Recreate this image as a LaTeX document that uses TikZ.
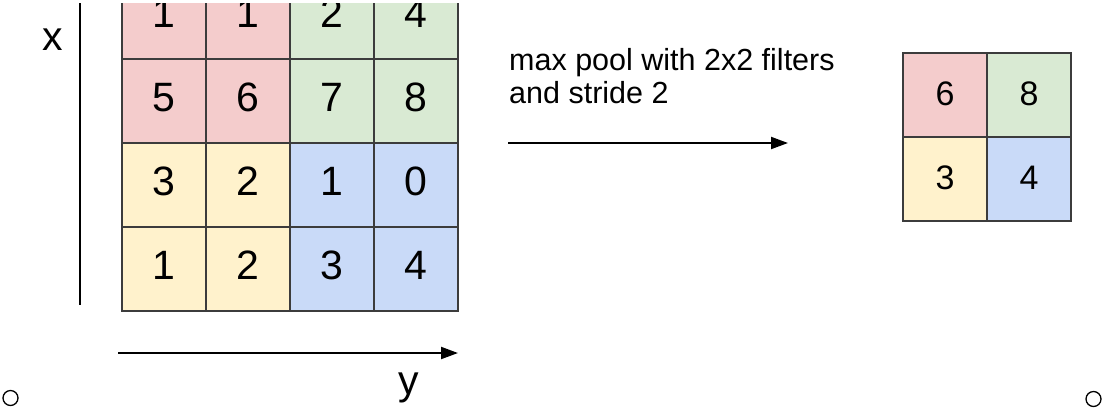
\documentclass[tikz,border=0pt]{standalone}
\usepackage{fontspec}
\setmainfont{Liberation Sans}
\usetikzlibrary{arrows.meta}
\definecolor{cpink}{RGB}{244,204,204}
\definecolor{cgreen}{RGB}{217,234,211}
\definecolor{cyellow}{RGB}{255,242,204}
\definecolor{cblue}{RGB}{201,218,248}
\definecolor{cborder}{RGB}{60,60,60}
\tikzset{
  bigcell/.style={draw=cborder, line width=1.3pt, minimum width=84pt, minimum height=84pt,
    inner sep=0pt, text depth=8pt, font=\fontsize{41}{41}\selectfont},
  smallcell/.style={draw=cborder, line width=1.3pt, minimum width=84pt, minimum height=84pt,
    inner sep=0pt, text depth=2pt, font=\fontsize{34}{34}\selectfont},
  axislabel/.style={inner sep=0pt, font=\fontsize{41}{41}\selectfont},
  arrowline/.style={line width=2pt, -{Triangle[length=17pt,width=12pt]}},
  bullet/.style={draw=black, line width=1.3pt, circle, minimum size=15pt, inner sep=0pt}
}
\begin{document}
\begin{tikzpicture}[x=1pt,y=-1pt]
\useasboundingbox (0,0) rectangle (1105,408);
\fill[white] (0,0) rectangle (1105,408);
\begin{scope}
\clip (0,3) rectangle (1105,408);
% input grid, column centres 164,248,332,416 ; row centres 17,101,185,269
\node[bigcell, fill=cpink]   (c11) at (164,17)  {1};
\node[bigcell, fill=cpink]   (c12) at (248,17)  {1};
\node[bigcell, fill=cgreen]  (c13) at (332,17)  {2};
\node[bigcell, fill=cgreen]  (c14) at (416,17)  {4};
\node[bigcell, fill=cpink]   (c21) at (164,101) {5};
\node[bigcell, fill=cpink]   (c22) at (248,101) {6};
\node[bigcell, fill=cgreen]  (c23) at (332,101) {7};
\node[bigcell, fill=cgreen]  (c24) at (416,101) {8};
\node[bigcell, fill=cyellow] (c31) at (164,185) {3};
\node[bigcell, fill=cyellow] (c32) at (248,185) {2};
\node[bigcell, fill=cblue]   (c33) at (332,185) {1};
\node[bigcell, fill=cblue]   (c34) at (416,185) {0};
\node[bigcell, fill=cyellow] (c41) at (164,269) {1};
\node[bigcell, fill=cyellow] (c42) at (248,269) {2};
\node[bigcell, fill=cblue]   (c43) at (332,269) {3};
\node[bigcell, fill=cblue]   (c44) at (416,269) {4};
% x axis line
\coordinate (xa1) at (80,0);
\coordinate (xa2) at (80,305);
\draw[line width=2.5pt] (xa1) -- (xa2);
\end{scope}
\node[axislabel, anchor=base] (xl) at (53,50) {x};
% y axis arrow
\coordinate (ya1) at (118,353);
\coordinate (ya2) at (458,353);
\draw[arrowline] (ya1) -- (ya2);
\node[axislabel, anchor=base] (yl) at (409,394) {y};
% label and arrow
\node[anchor=base west, inner sep=0pt, align=left, font=\fontsize{30.5}{33}\selectfont] (lbl) at (509,103)
  {max pool with 2x2 filters\\and stride 2};
\coordinate (pa1) at (508,143);
\coordinate (pa2) at (788,143);
\draw[arrowline] (pa1) -- (pa2);
% output grid
\node[smallcell, fill=cpink]   (o11) at (945,95)  {6};
\node[smallcell, fill=cgreen]  (o12) at (1029,95) {8};
\node[smallcell, fill=cyellow] (o21) at (945,179) {3};
\node[smallcell, fill=cblue]   (o22) at (1029,179) {4};
% bullets
\node[bullet] (b1) at (10.5,398) {};
\node[bullet] (b2) at (1093.5,399) {};
\end{tikzpicture}
\end{document}
